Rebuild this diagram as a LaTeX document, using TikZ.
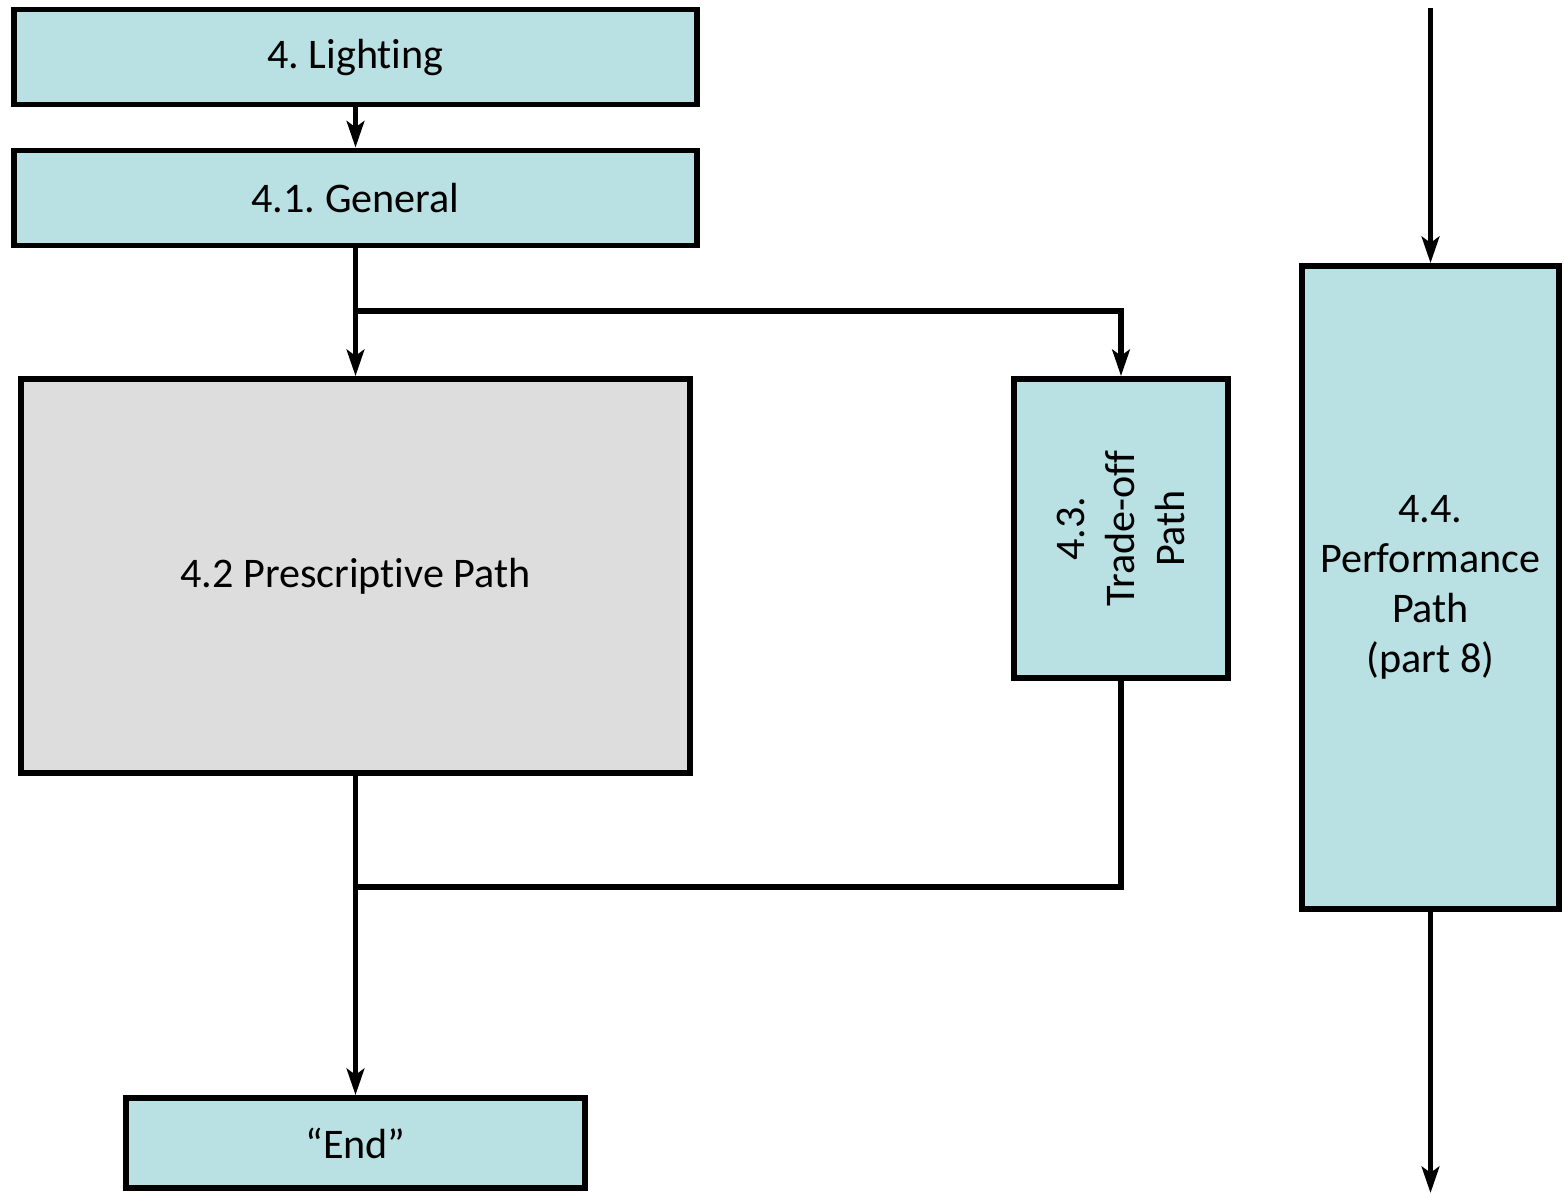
\documentclass[tikz,border=0pt]{standalone}
\usepackage{fontspec}
\setmainfont[Ligatures=NoCommon]{Carlito}
\usetikzlibrary{arrows.meta}

\begin{document}
\frenchspacing
\begin{tikzpicture}[x=0.02cm, y=-0.02cm, >={Stealth[length=15pt, width=10pt, inset=3.5pt]}, line width=3.4pt]
  % colours
  \definecolor{boxblue}{RGB}{185,224,227}
  \definecolor{boxgrey}{RGB}{221,221,221}

  % styles
  \tikzset{
    stepbox/.style={draw=black, fill=boxblue, line width=3.4pt, inner sep=0pt,
      align=center, font=\fontsize{24}{28.5}\selectfont},
    flow/.style={line width=3.2pt}
  }

  % page frame
  \useasboundingbox (0,0) rectangle (1564,1193);

  % boxes
  \node[stepbox, minimum width=13.68cm, minimum height=1.9cm] (lighting) at (355.5,57) {4. Lighting};
  \node[stepbox, minimum width=13.68cm, minimum height=1.9cm] (general) at (355.5,198) {4.1. General};
  \node[stepbox, fill=boxgrey, minimum width=13.38cm, minimum height=7.88cm] (prescriptive) at (355.5,576) {4.2 Prescriptive Path};
  \node[stepbox, rotate=90, minimum width=5.98cm, minimum height=4.28cm] (tradeoff) at (1121,528.5) {4.3.\\Trade-off\\Path};
  \node[stepbox, minimum width=5.14cm, minimum height=12.86cm] (performance) at (1430.5,587.5) {4.4.\\Performance\\Path\\(part 8)};
  \node[stepbox, minimum width=9.18cm, minimum height=1.8cm] (theend) at (355.5,1143) {“End”};

  % junctions and free ends
  \coordinate (split) at (355.5,311);
  \coordinate (merge) at (355.5,887);
  \coordinate (perftop) at (1430.5,8);
  \coordinate (perfend) at (1430.5,1193);

  % connectors
  \draw[flow, ->] (lighting) -- (general);
  \draw[flow, ->] (general) -- (prescriptive);
  \draw[flow, ->] (split) -| (tradeoff);
  \draw[flow, ->] (prescriptive) -- (theend);
  \draw[flow] (tradeoff) |- (merge);
  \draw[flow, ->] (perftop) -- (performance);
  \draw[flow, ->] (performance) -- (perfend);
\end{tikzpicture}
\end{document}
